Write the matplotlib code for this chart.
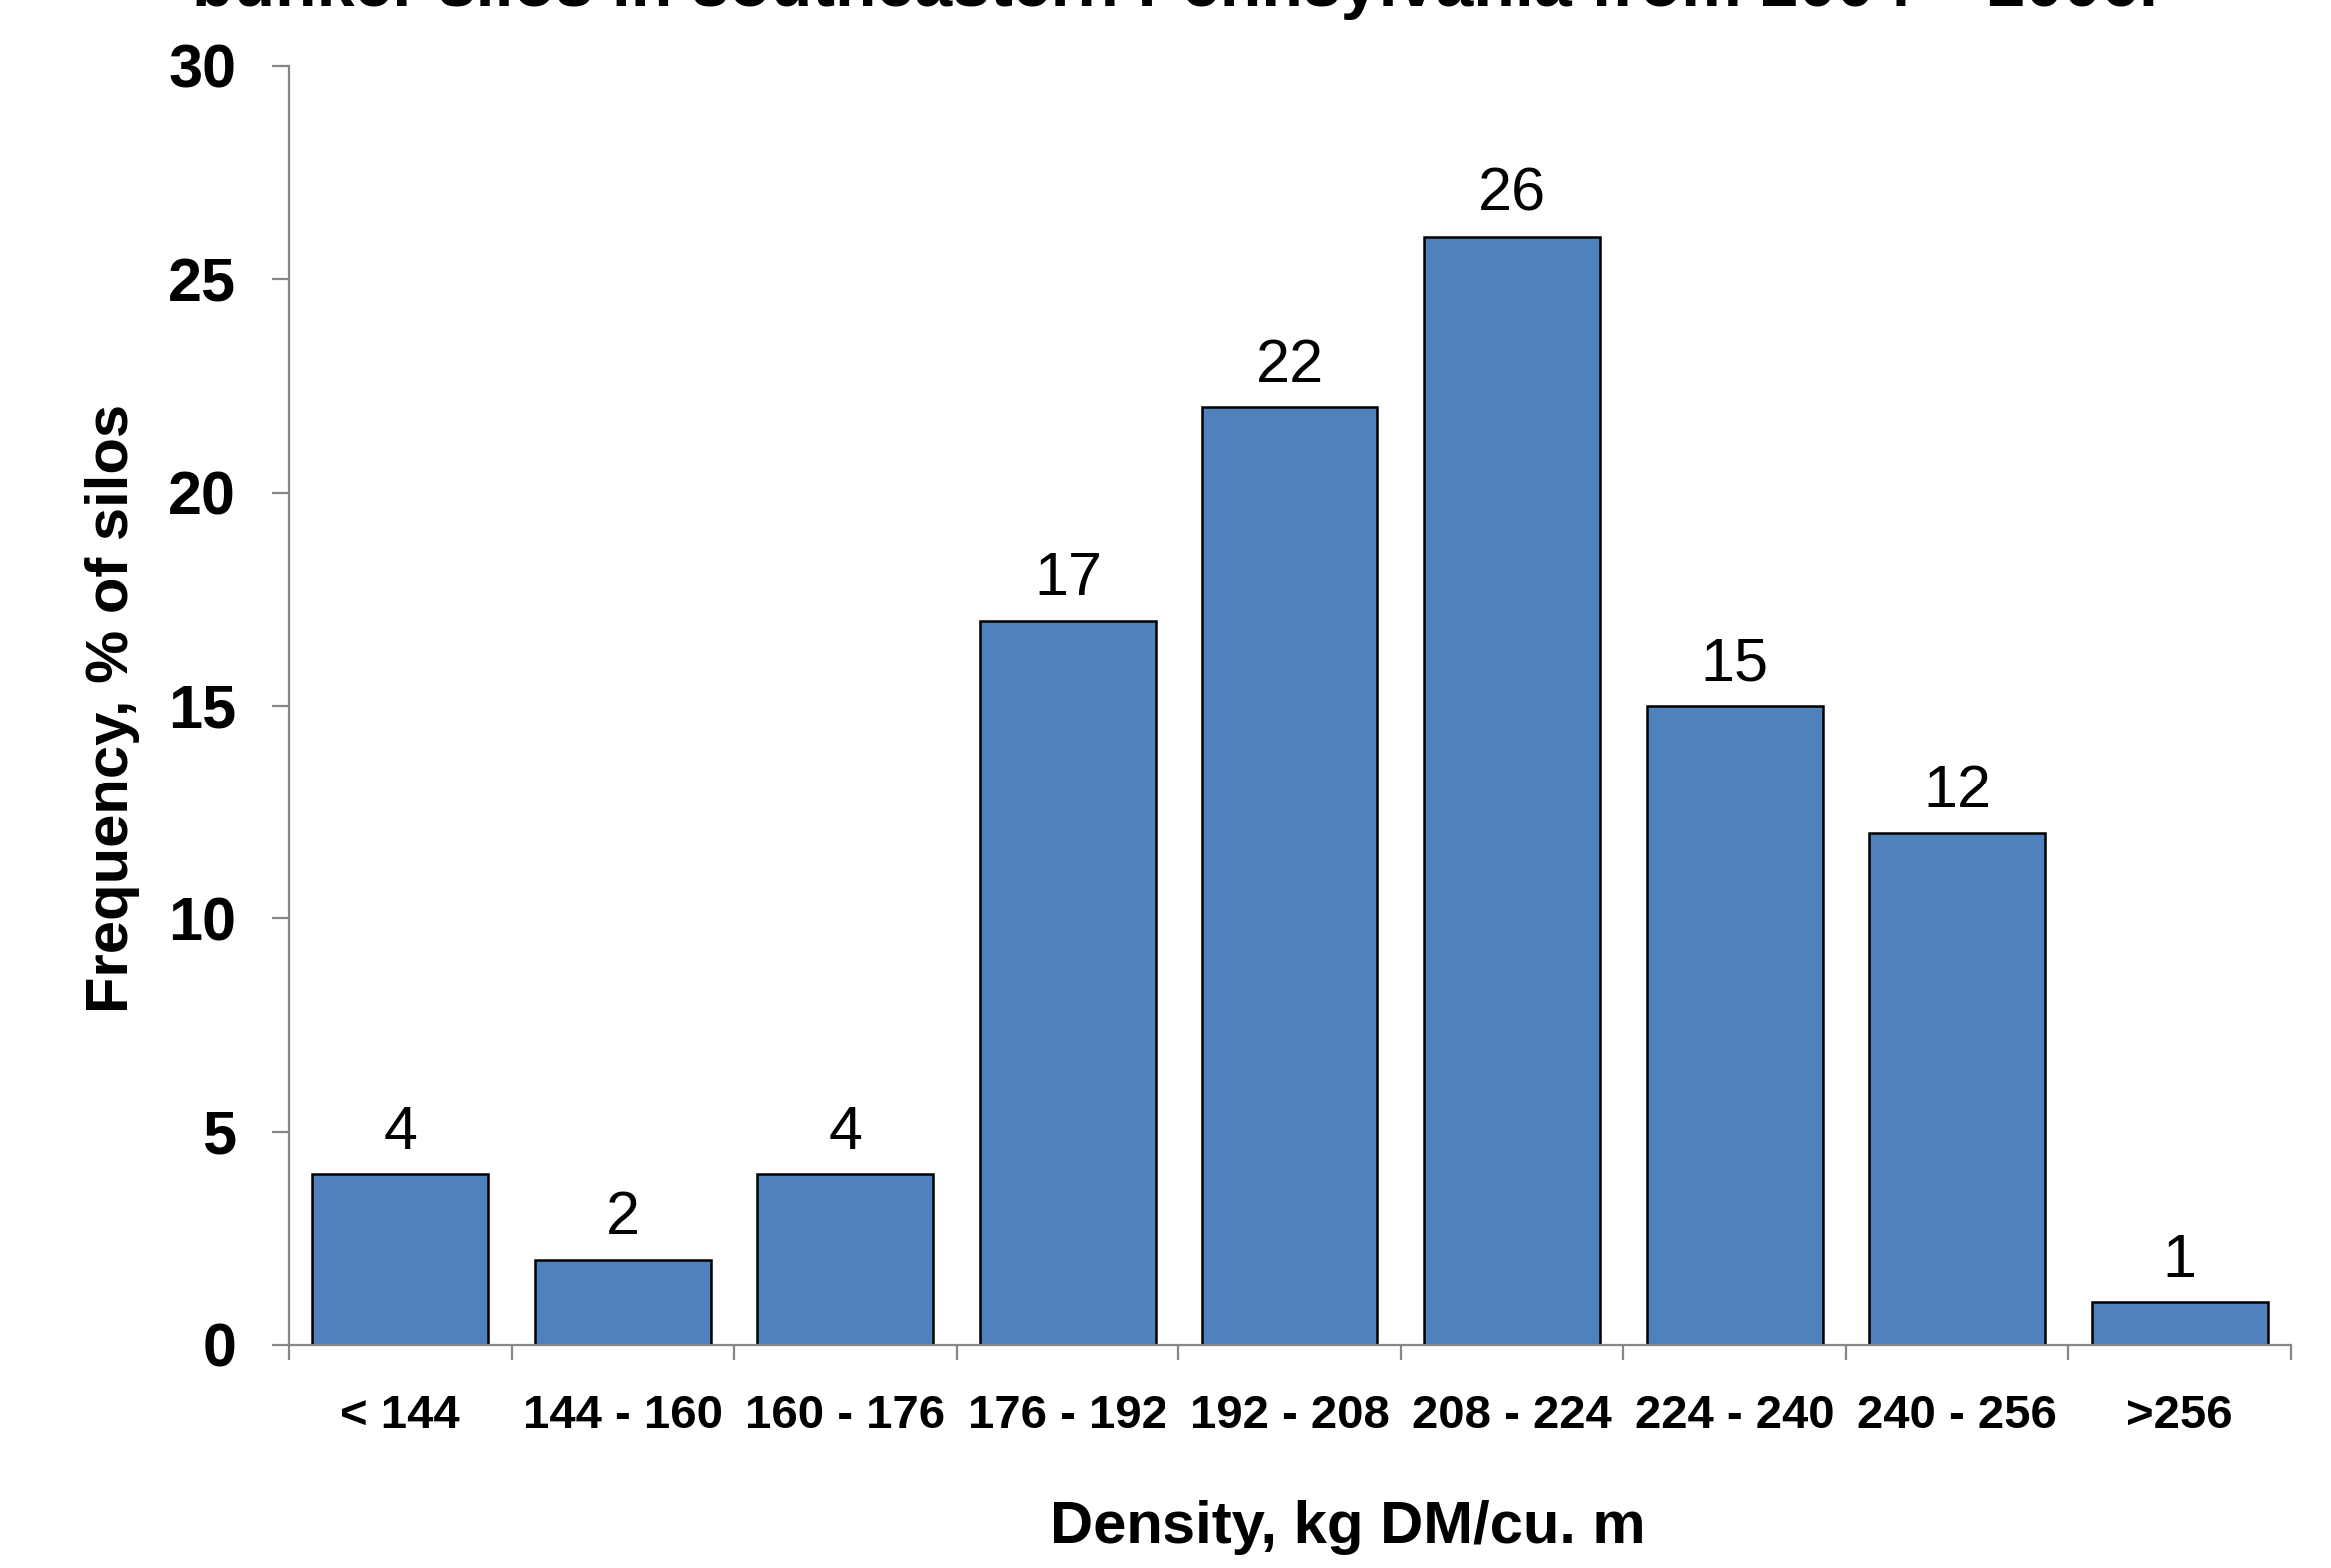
import matplotlib
matplotlib.use("Agg")
import matplotlib.pyplot as plt
import numpy as np

# Frequency distribution of silage density classes
categories = ["< 144", "144 - 160", "160 - 176", "176 - 192", "192 - 208",
              "208 - 224", "224 - 240", "240 - 256", ">256"]
frequency = [4, 2, 4, 17, 22, 26, 15, 12, 1]
y_ticks = [0, 5, 10, 15, 20, 25, 30]

W, H, DPI = 2332, 1569, 100
plt.rcParams["font.family"] = ["Liberation Sans", "DejaVu Sans"]

fig = plt.figure(figsize=(W / DPI, H / DPI), dpi=DPI)
ax = fig.add_axes([289 / W, 1 - 1346 / H, (2292 - 289) / W, (1346 - 66) / H])

x = np.arange(len(categories))
bars = ax.bar(x, frequency, width=0.79, color="#4F81BD",
              edgecolor="black", linewidth=1.8, zorder=2)

for xi, v in zip(x, frequency):
    ax.annotate(str(v), (xi, v), xytext=(0, 18.5), textcoords="offset points",
                ha="center", va="baseline", fontsize=44, color="black")

ax.set_xlim(-0.5, len(categories) - 0.5)
ax.set_ylim(0, 30)

# Spines: gray left and bottom axis lines only
for side in ("top", "right"):
    ax.spines[side].set_visible(False)
for side in ("left", "bottom"):
    ax.spines[side].set_color("#868686")
    ax.spines[side].set_linewidth(1.6)
    ax.spines[side].set_zorder(3)

ax.set_yticks(y_ticks)
ax.set_yticklabels([str(t) for t in y_ticks], fontsize=44, fontweight="bold")
ax.tick_params(axis="y", direction="out", length=12, width=1.6,
               color="#868686", pad=26)

# Category labels centred on bars, tick marks at the class boundaries
ax.set_xticks(x)
ax.set_xticklabels(categories, fontsize=34, fontweight="bold")
ax.tick_params(axis="x", which="major", length=0, pad=35)
ax.set_xticks(np.arange(-0.5, len(categories)), minor=True)
ax.tick_params(axis="x", which="minor", direction="out", length=11,
               width=1.6, color="#868686")

fig.text(1348 / W, 1 - 1529 / H, "Density, kg DM/cu. m", fontsize=43,
         fontweight="bold", ha="center", va="center")
fig.text(112 / W, 1 - 709 / H, "Frequency, % of silos", fontsize=43,
         fontweight="bold", ha="center", va="center", rotation=90)
fig.text(1175 / W, 1 - 6 / H,
         "bunker silos in southeastern Pennsylvania from 2004 \u2013 2006.",
         fontsize=49, fontweight="bold", ha="center", va="baseline")

fig.savefig("out.png", dpi=DPI)
